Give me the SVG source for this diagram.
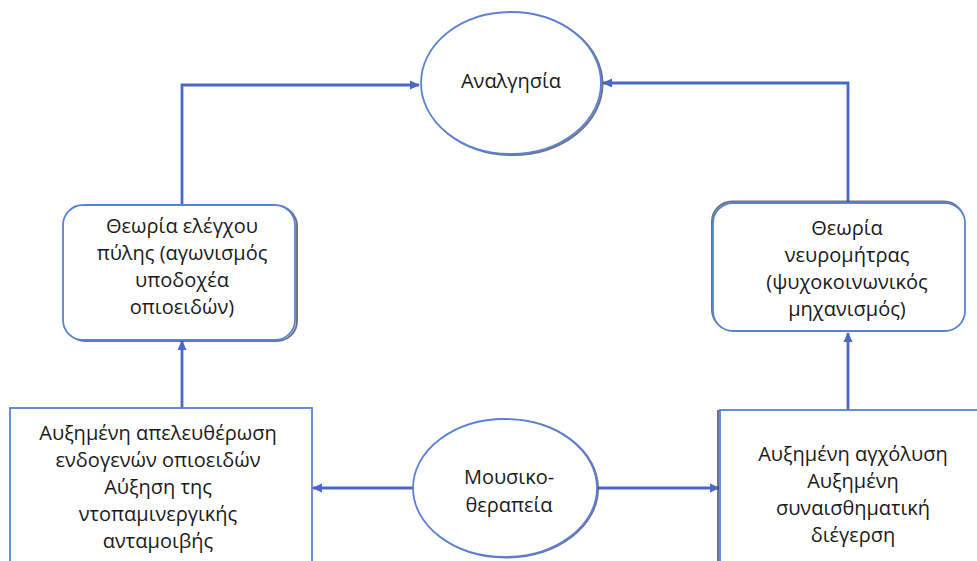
<svg xmlns="http://www.w3.org/2000/svg" width="977" height="561" viewBox="0 0 977 561">
<defs>
<style>
.node{fill:#ffffff;stroke:#5a82d4;stroke-width:1.8}
.shadow{fill:#ffffff;stroke:#4a4f63;stroke-width:2;opacity:0.8}
.conn{fill:none;stroke:#4a68c8;stroke-width:2.8}
.t{font-family:"Open Sans","Noto Sans","DejaVu Sans",sans-serif;font-size:20px;fill:#1a1a1a;text-anchor:middle}
</style>
<marker id="arr" viewBox="0 0 10 10" refX="9" refY="5" markerWidth="10" markerHeight="10" markerUnits="userSpaceOnUse" orient="auto">
<path d="M0,0.5 L10,5 L0,9.5 z" fill="#4a68c8"/>
</marker>
</defs>
<rect width="977" height="561" fill="#ffffff"/>
<g id="connectors">
<path class="conn" d="M182,205 V85 H419" marker-end="url(#arr)"/>
<path class="conn" d="M848,203 V83 H603" marker-end="url(#arr)"/>
<path class="conn" d="M182,408 V341" marker-end="url(#arr)"/>
<path class="conn" d="M848,410 V333" marker-end="url(#arr)"/>
<path class="conn" d="M413,488 H313" marker-end="url(#arr)"/>
<path class="conn" d="M597,488 H719" marker-end="url(#arr)"/>
</g>
<g id="analgisia">
<ellipse class="shadow" cx="512.5" cy="84" rx="90" ry="71"/>
<ellipse class="node" cx="511" cy="83" rx="90" ry="71"/>
<text class="t" x="511" y="88">Αναλγησία</text>
</g>
<g id="gate-theory">
<rect class="shadow" x="65" y="206" width="232" height="135" rx="20"/>
<rect class="node" x="63" y="205" width="232" height="135" rx="20"/>
<text class="t" x="182" y="233">Θεωρία ελέγχου</text>
<text class="t" x="182" y="260">πύλης (αγωνισμός</text>
<text class="t" x="182" y="287">υποδοχέα</text>
<text class="t" x="182" y="314">οπιοειδών)</text>
</g>
<g id="neuromatrix">
<rect class="shadow" x="712" y="201.5" width="252" height="128" rx="20"/>
<rect class="node" x="713" y="203" width="252" height="128" rx="20"/>
<text class="t" x="847" y="235">Θεωρία</text>
<text class="t" x="847" y="262">νευρομήτρας</text>
<text class="t" x="847" y="289">(ψυχοκοινωνικός</text>
<text class="t" x="847" y="316">μηχανισμός)</text>
</g>
<g id="opioids">
<rect class="node" x="10" y="408" width="302" height="170"/>
<text class="t" x="158" y="440">Αυξημένη απελευθέρωση</text>
<text class="t" x="158" y="467">ενδογενών οπιοειδών</text>
<text class="t" x="158" y="494">Αύξηση της</text>
<text class="t" x="158" y="521">ντοπαμινεργικής</text>
<text class="t" x="158" y="548">ανταμοιβής</text>
</g>
<g id="music-therapy">
<ellipse class="shadow" cx="506" cy="488.5" rx="92" ry="69" opacity="0.4"/>
<ellipse class="node" cx="505" cy="488" rx="92" ry="69"/>
<text class="t" x="509" y="484">Μουσικο-</text>
<text class="t" x="509" y="512">θεραπεία</text>
</g>
<g id="arousal">
<rect class="shadow" x="718" y="411" width="270" height="170"/>
<rect class="node" x="720" y="410" width="270" height="170"/>
<text class="t" x="853" y="461">Αυξημένη αγχόλυση</text>
<text class="t" x="853" y="488">Αυξημένη</text>
<text class="t" x="853" y="515">συναισθηματική</text>
<text class="t" x="853" y="542">διέγερση</text>
</g>
</svg>
